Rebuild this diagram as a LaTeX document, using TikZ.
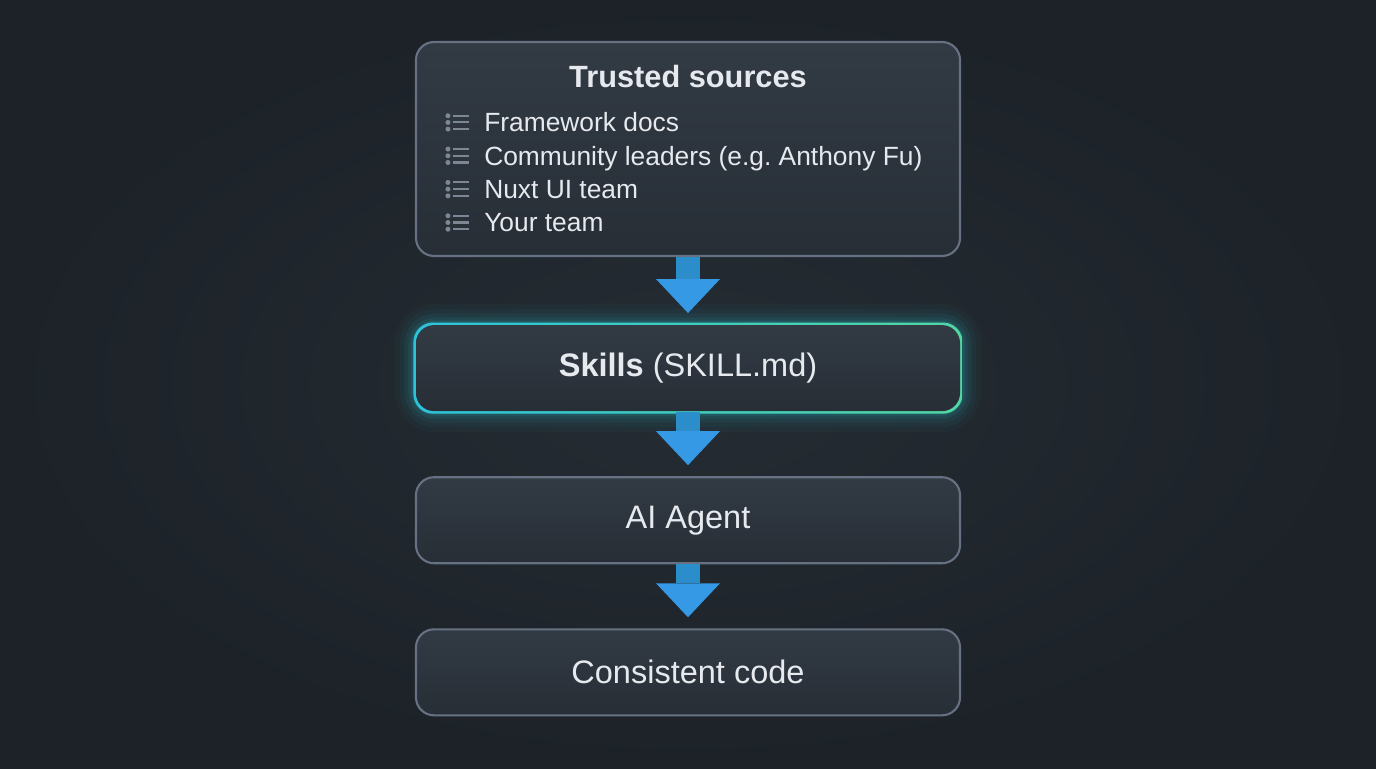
\documentclass[tikz,border=0pt]{standalone}
\usepackage{fontspec}
\setmainfont{Liberation Sans}
\frenchspacing
\usetikzlibrary{positioning}
\usetikzlibrary{arrows.meta}
\usetikzlibrary{backgrounds}

\definecolor{pagebg}{HTML}{1C2228}
\definecolor{pagemid}{HTML}{252C33}
\definecolor{boxtop}{HTML}{323A44}
\definecolor{boxbottom}{HTML}{272E36}
\definecolor{boxedge}{HTML}{667181}
\definecolor{labeltext}{HTML}{E6EAEE}
\definecolor{icongrey}{HTML}{7D8794}
\definecolor{shaftblue}{HTML}{2C8DCB}
\definecolor{headblue}{HTML}{3699E6}
\definecolor{skillcyan}{HTML}{2EC3DA}
\definecolor{skillgreen}{HTML}{52D6A2}
\definecolor{glowteal}{HTML}{22B4C0}

\tikzset{
  stage/.style={rectangle, rounded corners=0.36cm, draw=boxedge, line width=1.2pt,
    top color=boxtop, bottom color=boxbottom, minimum width=10.88cm, minimum height=1.72cm,
    text=labeltext, font=\fontsize{18.5}{22}\selectfont},
  srcitem/.style={inner sep=0pt, text=labeltext, font=\fontsize{15}{18}\selectfont},
  flow/.style={draw=shaftblue, line width=0.48cm, shorten >=0.22cm,
    -{Triangle[width=1.28cm,length=0.68cm,line width=0pt,fill=headblue,color=headblue]}},
  listicon/.pic={
    \foreach \dy in {-0.134,0,0.134} {
      \fill[icongrey] (0,\dy) circle (0.05);
      \draw[icongrey, line width=1.2pt] (0.11,\dy) -- (0.42,\dy);
    }
  }
}

\begin{document}
\begin{tikzpicture}
\useasboundingbox (0,0) rectangle (27.52,15.36);

% stages
\node[stage, minimum height=4.28cm] (sources) at (13.76,12.38) {};
\node[text=labeltext, font=\bfseries\fontsize{17.5}{21}\selectfont] (title) at ([yshift=-0.72cm]sources.north) {Trusted sources};
\foreach \src [count=\i] in {Framework docs, Community leaders (e.g. Anthony Fu), Nuxt UI team, Your team} {
  \node[srcitem, anchor=base west] (src\i) at ([xshift=1.38cm, yshift={-1.82cm-(\i-1)*0.667cm}]sources.north west) {\src};
  \pic at ([xshift=-0.72cm, yshift=0.19cm]src\i.base west) {listicon};
}
\node[stage, draw=none, below=1.34cm of sources] (skills) {\textbf{Skills} (SKILL.md)};
\node[stage, below=1.28cm of skills] (agent) {AI Agent};
\node[stage, below=1.28cm of agent] (result) {Consistent code};

% arrows
\draw[flow] (sources) -- (skills);
\draw[flow] (skills) -- (agent);
\draw[flow] (agent) -- (result);

% page and glow
\begin{scope}[on background layer]
\shade[inner color=pagemid, outer color=pagebg] (0,0) rectangle (27.52,15.36);
\foreach \w/\o in {0.8/0.04,0.6/0.05,0.42/0.07,0.26/0.1,0.14/0.15} {
  \draw[glowteal, line width=\w cm, opacity=\o, rounded corners=0.4cm] (skills.north west) rectangle (skills.south east);
}
\shade[left color=skillcyan, right color=skillgreen, rounded corners=0.39cm] ([shift={(-0.03,0.03)}]skills.north west) rectangle ([shift={(0.03,-0.03)}]skills.south east);
\end{scope}
\end{tikzpicture}
\end{document}
